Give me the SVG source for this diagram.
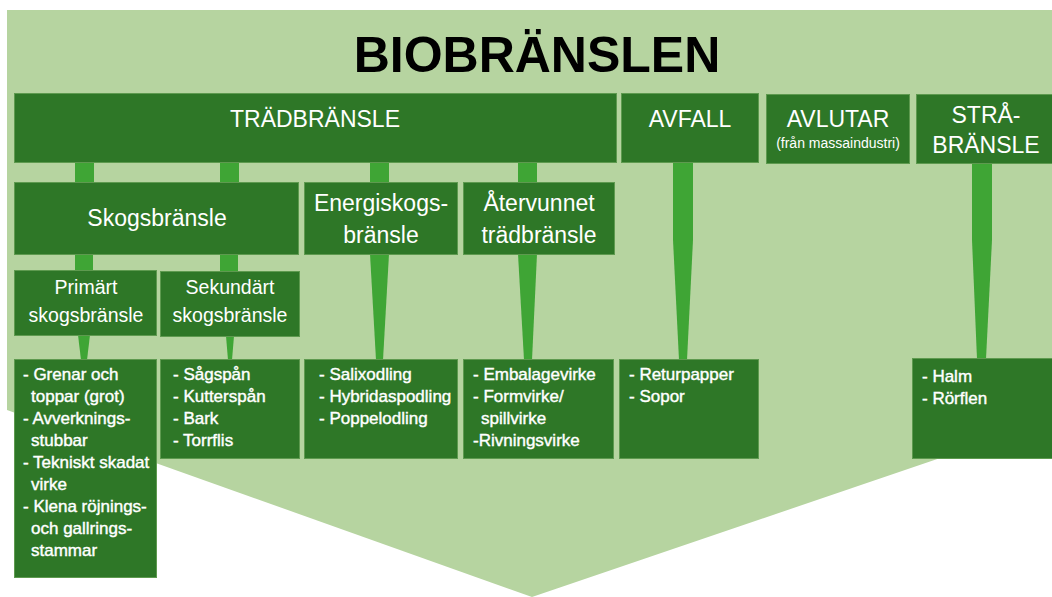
<svg xmlns="http://www.w3.org/2000/svg" width="1052" height="597" viewBox="0 0 1052 597">
<style>
.box{fill:#2E7727;stroke:#5E9A4F;stroke-width:1}
.con{fill:#3FA535}
text{font-family:"Liberation Sans",Arial,sans-serif;fill:#FFFFFF}
.t1{font-size:23px;text-anchor:middle}
.t2{font-size:23px;text-anchor:middle}
.t3{font-size:19.5px;text-anchor:middle}
.li{font-size:17px;stroke:#FFFFFF;stroke-width:0.4}
.title{font-size:50px;font-weight:bold;fill:#000000;text-anchor:middle}
</style>
<rect x="0" y="0" width="1052" height="597" fill="#FFFFFF"/>
<polygon points="7,10 1052,10 1052,420 532,597 7,410" fill="#B6D4A0"/>
<text class="title" x="537" y="72">BIOBRÄNSLEN</text>
<g id="connectors">
<rect class="con" x="75" y="162" width="19" height="21"/>
<rect class="con" x="220" y="162" width="19" height="21"/>
<rect class="con" x="370" y="162" width="19" height="21"/>
<rect class="con" x="518" y="162" width="19" height="21"/>
<rect class="con" x="75" y="254" width="18" height="17"/>
<rect class="con" x="220" y="254" width="18" height="18"/>
<polygon class="con" points="78,335 90,335 87,360 81,360"/>
<polygon class="con" points="226,336 234,336 232,360 228,360"/>
<polygon class="con" points="370,254 389,254 383,360 376,360"/>
<polygon class="con" points="518,254 537,254 532,360 524,360"/>
<polygon class="con" points="673,161 693,161 693,240 687,360 679,360 673,240"/>
<polygon class="con" points="972,162 992,162 992,240 986,359 977,359 972,240"/>
</g>
<g id="n-tradbransle"><rect class="box" x="14.5" y="93.5" width="602" height="69"/><text class="t1" x="315" y="127">TRÄDBRÄNSLE</text></g>
<g id="n-avfall"><rect class="box" x="621.5" y="93.5" width="137" height="69"/><text class="t1" x="690" y="127">AVFALL</text></g>
<g id="n-avlutar"><rect class="box" x="766.5" y="94.5" width="143" height="69"/><text class="t1" x="838" y="127">AVLUTAR</text><text x="838" y="148" style="font-size:14px;text-anchor:middle">(från massaindustri)</text></g>
<g id="n-strabransle"><rect class="box" x="916.5" y="94.5" width="140" height="69"/><text class="t1" x="986" y="123">STRÅ-</text><text class="t1" x="986" y="153">BRÄNSLE</text></g>
<g id="n-skogsbransle"><rect class="box" x="14.5" y="182.5" width="284" height="72"/><text class="t2" x="157" y="226">Skogsbränsle</text></g>
<g id="n-energiskogsbransle"><rect class="box" x="304.5" y="182.5" width="153" height="72"/><text class="t2" x="381" y="211">Energiskogs-</text><text class="t2" x="381" y="243">bränsle</text></g>
<g id="n-atervunnet"><rect class="box" x="463.5" y="182.5" width="151" height="72"/><text class="t2" x="539" y="211">Återvunnet</text><text class="t2" x="539" y="243">trädbränsle</text></g>
<g id="n-primart"><rect class="box" x="14.5" y="270.5" width="142" height="65"/><text class="t3" x="86" y="294">Primärt</text><text class="t3" x="86" y="322">skogsbränsle</text></g>
<g id="n-sekundart"><rect class="box" x="160.5" y="271.5" width="139" height="65"/><text class="t3" x="230" y="294">Sekundärt</text><text class="t3" x="230" y="322">skogsbränsle</text></g>
<g id="n-list-primart"><rect class="box" x="14.5" y="359.5" width="142" height="218"/>
<text class="li" x="23" y="380">- Grenar och</text>
<text class="li" x="31" y="402">toppar (grot)</text>
<text class="li" x="23" y="424">- Avverknings-</text>
<text class="li" x="31" y="446">stubbar</text>
<text class="li" x="23" y="468">- Tekniskt skadat</text>
<text class="li" x="31" y="490">virke</text>
<text class="li" x="23" y="512">- Klena röjnings-</text>
<text class="li" x="31" y="534">och gallrings-</text>
<text class="li" x="31" y="556">stammar</text>
</g>
<g id="n-list-sekundart"><rect class="box" x="160.5" y="359.5" width="139" height="99"/>
<text class="li" x="173" y="380">- Sågspån</text>
<text class="li" x="173" y="402">- Kutterspån</text>
<text class="li" x="173" y="424">- Bark</text>
<text class="li" x="173" y="446">- Torrflis</text>
</g>
<g id="n-list-energi"><rect class="box" x="304.5" y="359.5" width="153" height="99"/>
<text class="li" x="319" y="380">- Salixodling</text>
<text class="li" x="319" y="402">- Hybridaspodling</text>
<text class="li" x="319" y="424">- Poppelodling</text>
</g>
<g id="n-list-atervunnet"><rect class="box" x="463.5" y="359.5" width="150" height="99"/>
<text class="li" x="473" y="380">- Embalagevirke</text>
<text class="li" x="473" y="402">- Formvirke/</text>
<text class="li" x="481" y="424">spillvirke</text>
<text class="li" x="473" y="446">-Rivningsvirke</text>
</g>
<g id="n-list-avfall"><rect class="box" x="619.5" y="359.5" width="139" height="99"/>
<text class="li" x="629" y="380">- Returpapper</text>
<text class="li" x="629" y="402">- Sopor</text>
</g>
<g id="n-list-stra"><rect class="box" x="912.5" y="358.5" width="144" height="100"/>
<text class="li" x="922" y="382">- Halm</text>
<text class="li" x="922" y="404">- Rörflen</text>
</g>
</svg>
